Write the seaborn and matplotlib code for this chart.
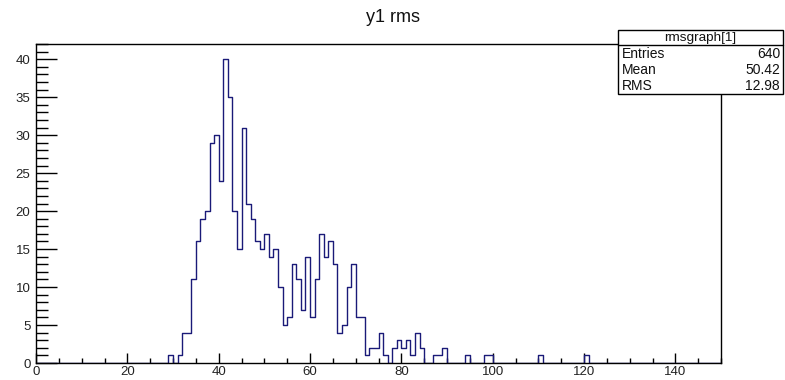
import matplotlib
matplotlib.use("Agg")
import matplotlib.pyplot as plt
import seaborn as sns
import pandas as pd
from matplotlib.patches import Rectangle
from matplotlib.lines import Line2D

# ---- data (bin lower edges, width 1, and counts) ----
bin_left = [29, 31, 32, 33, 34, 35, 36, 37, 38, 39, 40, 41, 42, 43, 44, 45, 46, 47,
            48, 49, 50, 51, 52, 53, 54, 55, 56, 57, 58, 59, 60, 61, 62, 63, 64, 65,
            66, 67, 68, 69, 70, 71, 72, 73, 74, 75, 76, 78, 79, 80, 81, 82, 83, 84,
            87, 88, 89, 94, 98, 99, 110, 120]
counts = [1, 1, 4, 4, 11, 16, 19, 20, 29, 30, 24, 40, 35, 20, 15, 31, 21, 19,
          16, 15, 17, 14, 15, 10, 5, 6, 13, 11, 7, 14, 6, 11, 17, 14, 16, 13,
          4, 5, 10, 13, 6, 6, 1, 2, 2, 4, 1, 2, 3, 2, 3, 1, 4, 2,
          1, 1, 2, 1, 1, 1, 1, 1]
title = "y1 rms"
stats_name = "rmsgraph[1]"
stats_labels = ["Entries", "Mean", "RMS"]
stats_values = ["640", "50.42", "12.98"]
x_ticks = [0, 20, 40, 60, 80, 100, 120, 140]
y_ticks = [0, 5, 10, 15, 20, 25, 30, 35, 40]

df = pd.DataFrame({"x": [b + 0.5 for b in bin_left], "n": counts})

sns.set_theme(style="ticks")
plt.rcParams["font.family"] = ["Liberation Sans", "DejaVu Sans"]

W, H = 785, 380
fig = plt.figure(figsize=(W / 100, H / 100), dpi=100)
fig.patch.set_facecolor("white")
ax = fig.add_axes([36 / W, 1 - 363 / H, (721 - 36) / W, (363 - 44) / H])

sns.histplot(data=df, x="x", weights="n", bins=150, binrange=(0, 150),
             element="step", fill=False, color="#1a1a78", linewidth=1.0, ax=ax)

ax.set_xlim(0, 150)
ax.set_ylim(0, 42)
ax.set_xlabel("")
ax.set_ylabel("")
ax.set_xticks(x_ticks)
ax.set_xticks([v for v in range(0, 151, 5) if v % 20 != 0], minor=True)
ax.set_yticks(y_ticks)
ax.set_yticks([v for v in range(0, 43) if v % 5 != 0], minor=True)
ax.set_xticklabels([str(v) for v in x_ticks])
ax.set_yticklabels([str(v) for v in y_ticks])

for s in ax.spines.values():
    s.set_color("black")
    s.set_linewidth(1.0)

ax.tick_params(axis="y", which="major", direction="in", length=15, width=1,
               labelsize=9.5, pad=4, color="black", labelcolor="#222222")
ax.tick_params(axis="y", which="minor", direction="in", length=8.5, width=1,
               color="black")
ax.tick_params(axis="x", which="major", direction="in", length=7.5, width=1,
               labelsize=9.5, pad=2, color="black", labelcolor="#222222")
ax.tick_params(axis="x", which="minor", direction="in", length=3.6, width=1,
               color="black")
ax.tick_params(top=False, right=False, which="both")
ax.set_facecolor("white")

fig.text(393 / W, 1 - 18 / H, title, ha="center", va="center", fontsize=13,
         color="#111111")

# stats box
bx0, bx1, by0, by1 = 618, 783, 30, 94
fig.patches.append(Rectangle((bx0 / W, 1 - by1 / H), (bx1 - bx0) / W, (by1 - by0) / H,
                             transform=fig.transFigure, facecolor="white",
                             edgecolor="black", linewidth=1.0, zorder=5))
fig.lines.append(Line2D([bx0 / W, bx1 / W], [1 - 45 / H, 1 - 45 / H],
                        transform=fig.transFigure, color="black", linewidth=1.0, zorder=6))
fig.text((bx0 + bx1) / 2 / W, 1 - 37.5 / H, stats_name, ha="center", va="center",
         fontsize=9.7, zorder=7, color="#111111")
for i, (lab, val) in enumerate(zip(stats_labels, stats_values)):
    yy = 1 - (53.5 + i * 16) / H
    fig.text((bx0 + 4) / W, yy, lab, ha="left", va="center", fontsize=10, zorder=7,
             color="#111111")
    fig.text((bx1 - 3) / W, yy, val, ha="right", va="center", fontsize=10, zorder=7,
             color="#111111")

fig.savefig("out.png", dpi=100, facecolor="white")
